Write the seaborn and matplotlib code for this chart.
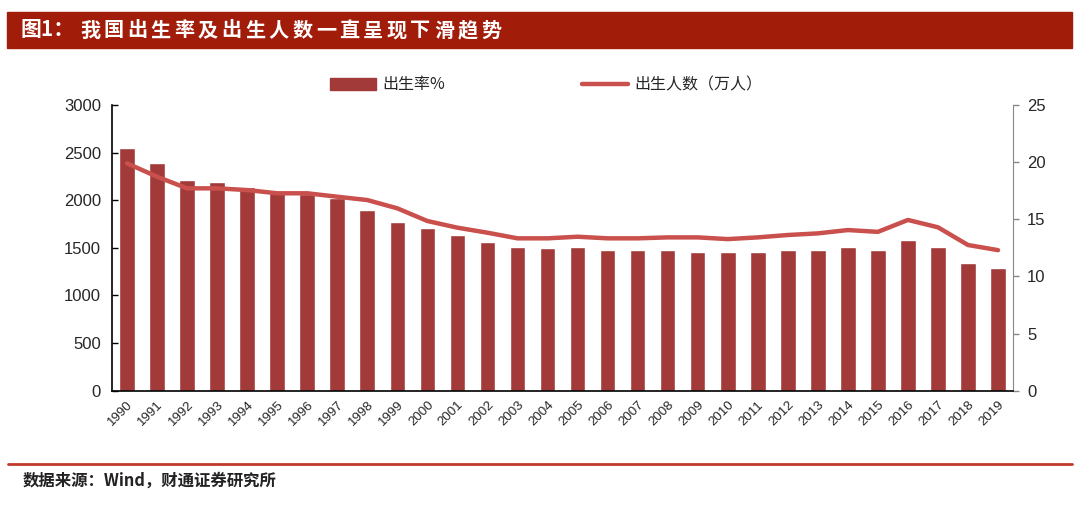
import numpy as np
import pandas as pd
import matplotlib
matplotlib.use("Agg")
import matplotlib.pyplot as plt
import seaborn as sns
from matplotlib.patches import Rectangle
from matplotlib.lines import Line2D

sns.set_style("white")
plt.rcParams['font.family'] = ['Liberation Sans', 'Noto Sans CJK SC', 'DejaVu Sans']

years = [str(y) for y in range(1990, 2020)]
# 出生人数（万人），左轴，折线
births = [2388, 2247, 2125, 2125, 2107, 2073, 2073, 2037, 2002, 1915,
          1782, 1712, 1659, 1600, 1600, 1617, 1600, 1600, 1610, 1610,
          1592, 1610, 1635, 1652, 1687, 1668, 1793, 1716, 1530, 1476]
# 出生率（‰），右轴，柱
birth_rate = [21.2, 19.9, 18.4, 18.3, 17.85, 17.3, 17.2, 16.9, 15.8, 14.8,
              14.2, 13.6, 13.0, 12.6, 12.45, 12.6, 12.3, 12.3, 12.3, 12.15,
              12.15, 12.15, 12.3, 12.3, 12.6, 12.3, 13.2, 12.6, 11.15, 10.7]

title_head = "图1："
title_body = "我国出生率及出生人数一直呈现下滑趋势"
source = "数据来源：Wind，财通证券研究所"

df = pd.DataFrame({"year": years, "births": births, "rate": birth_rate})
df["pos"] = df.index

bar_color = "#A23A3A"
line_color = "#C9504C"
dark_red = "#A21C0A"

fig = plt.figure(figsize=(10.8, 5.11), dpi=100)
ax = fig.add_axes([0.1037, 0.2354, 0.8343, 0.5591])
ax2 = ax.twinx()

sns.barplot(data=df, x="year", y="rate", ax=ax2, color=bar_color,
            width=0.52, saturation=1)
sns.lineplot(data=df, x="pos", y="births", ax=ax, color=line_color,
             linewidth=3.2)

# line on top of the bars
ax.set_zorder(ax2.get_zorder() + 1)
ax.patch.set_visible(False)

ax.set_xlim(-0.5, len(years) - 0.5)
ax.set_ylim(0, 3000)
ax.set_yticks(range(0, 3001, 500))
ax2.set_ylim(0, 25)
ax2.set_yticks(range(0, 26, 5))
ax.set_xlabel("")
ax.set_ylabel("")
ax2.set_xlabel("")
ax2.set_ylabel("")

ax.set_xticks(np.arange(len(years)))
ax.set_xticklabels(years, rotation=45, ha="right", rotation_mode="anchor",
                   fontsize=9.5)
ax.tick_params(axis="x", length=0, pad=6)
ax2.tick_params(axis="x", length=0)
ax.set_xticks(np.arange(len(years) + 1) - 0.5, minor=True)
ax.tick_params(axis="x", which="minor", direction="in", length=4, width=1,
               color="black")

ax.tick_params(axis="y", labelsize=12, direction="in", length=4, width=1,
               color="black", pad=8)
ax2.tick_params(axis="y", labelsize=12, direction="out", length=4, width=1,
                color="#888888", pad=6)

for a in (ax, ax2):
    a.spines["top"].set_visible(False)
ax.spines["right"].set_visible(False)
ax.spines["left"].set_color("black")
ax.spines["bottom"].set_color("black")
ax.spines["left"].set_linewidth(1.2)
ax.spines["bottom"].set_linewidth(1.2)
ax2.spines["left"].set_visible(False)
ax2.spines["bottom"].set_visible(False)
ax2.spines["right"].set_color("#888888")

# legend
handles = [Rectangle((0, 0), 1, 1, color=bar_color),
           Line2D([0], [0], color=line_color, linewidth=3.2)]
labels = ["出生率%", "出生人数（万人）"]
fig.legend(handles, labels, loc="center", bbox_to_anchor=(0.5055, 0.834),
           ncol=2, frameon=False, handlelength=2.9, handleheight=0.75,
           columnspacing=8.6, handletextpad=0.35,
           prop={"family": ["Noto Sans CJK SC"], "size": 11.5})

# title bar
fig.patches.append(Rectangle((0.0065, 1 - 48 / 511), 0.986, 36 / 511,
                             transform=fig.transFigure, color=dark_red,
                             zorder=0))
title_y = 1 - 30 / 511
fig.text(21 / 1080, title_y, title_head, color="white", fontsize=15,
         fontweight="bold", va="center", family=["Noto Sans CJK SC"])
for i, ch in enumerate(title_body):
    fig.text((80 + i * 23.6) / 1080, title_y, ch, color="white",
             fontsize=14.5, fontweight="bold", va="center",
             family=["Noto Sans CJK SC"])

# bottom line and source
fig.add_artist(Line2D([0.0075, 0.993], [1 - 464 / 511, 1 - 464 / 511],
                      transform=fig.transFigure, color="#C0392B",
                      linewidth=2))
fig.text(0.021, 1 - 481 / 511, source,
         color="#222222", fontsize=11.8, fontweight="bold", va="center",
         family=["Noto Sans CJK SC"])

fig.savefig("out.png", dpi=100)
